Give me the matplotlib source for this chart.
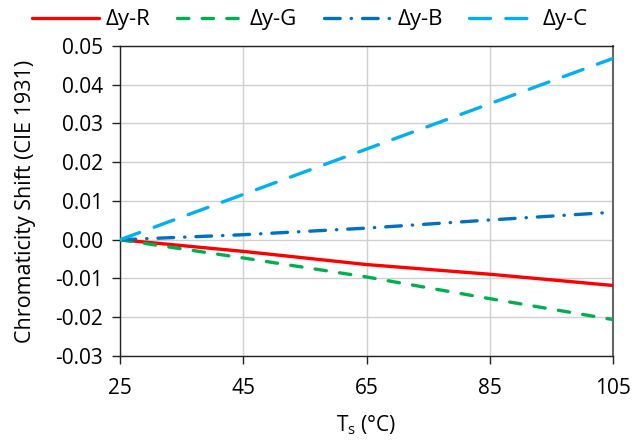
import matplotlib

matplotlib.use("Agg")

import matplotlib.pyplot as plt
from matplotlib.ticker import FormatStrFormatter

plt.rcParams["font.family"] = ["Open Sans", "DejaVu Sans"]

temps = [25, 45, 65, 85, 105]
dy_r = [0.0, -0.0030, -0.0064, -0.0089, -0.0118]
dy_g = [0.0, -0.0047, -0.0096, -0.0152, -0.0206]
dy_b = [0.0, 0.0013, 0.0030, 0.0051, 0.0071]
dy_c = [0.0, 0.0117, 0.0234, 0.0351, 0.0468]

x_ticks = [25, 45, 65, 85, 105]
y_ticks = [-0.03, -0.02, -0.01, 0.00, 0.01, 0.02, 0.03, 0.04, 0.05]

fs = 15
lw = 2.4

fig = plt.figure(figsize=(6.35, 4.41), dpi=100)
ax = fig.add_axes([120 / 635, 1 - 356 / 441, (613 - 120) / 635, (356 - 46) / 441])

ax.plot(temps, dy_r, color="#ff0000", lw=lw, solid_capstyle="round", label="Δy-R", zorder=3)
ax.plot(temps, dy_g, color="#00b050", lw=lw, ls=(0, (3.4, 4.0)), dash_capstyle="round",
        label="Δy-G", zorder=3)
ax.plot(temps, dy_b, color="#0070c0", lw=lw, ls=(0, (4.7, 3.3, 0.1, 3.3)), dash_capstyle="round",
        label="Δy-B", zorder=3)
ax.plot(temps, dy_c, color="#00b0f0", lw=lw, ls=(0, (6.3, 4.6)), dash_capstyle="round",
        label="Δy-C", zorder=3)

ax.set_xlim(25, 105)
ax.set_ylim(-0.03, 0.05)
ax.set_xticks(x_ticks)
ax.set_yticks(y_ticks)
ax.yaxis.set_major_formatter(FormatStrFormatter("%.2f"))
ax.grid(True, color="#d0d0d0", lw=1.0, zorder=0)
ax.tick_params(axis="both", labelsize=fs, length=6, width=1.0, direction="out", color="#222222")
ax.tick_params(axis="x", pad=10)
ax.tick_params(axis="y", pad=6)
for side in ["left", "bottom", "top"]:
    ax.spines[side].set_color("#222222")
    ax.spines[side].set_linewidth(1.0)
ax.spines["right"].set_color("#666666")
ax.spines["right"].set_linewidth(1.5)

ax.set_xlabel("T$_\\mathregular{s}$ (°C)", fontsize=fs, labelpad=10)
ax.set_ylabel("Chromaticity Shift (CIE 1931)", fontsize=15.5, labelpad=14)

fig.legend(loc="center", bbox_to_anchor=(0.488, 0.955), ncol=4, frameon=False, fontsize=16,
           handlelength=3.0, handletextpad=0.3, columnspacing=1.2, borderaxespad=0)

fig.savefig("out.png", dpi=100, facecolor="white")
